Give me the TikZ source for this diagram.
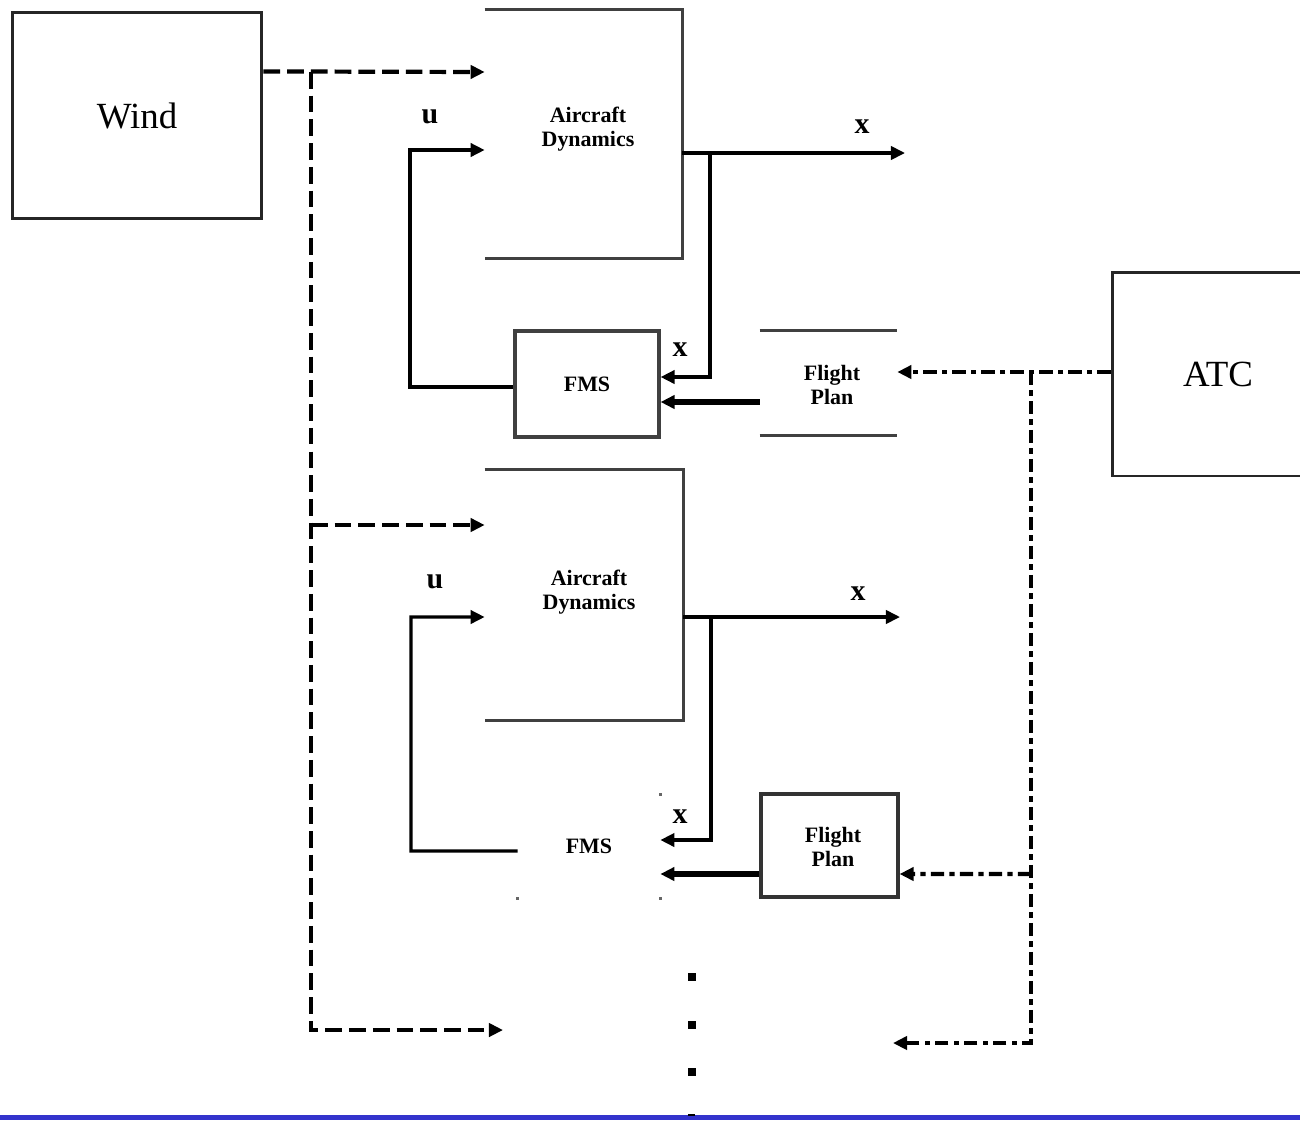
\documentclass[tikz,border=0pt]{standalone}
\usepackage{fontspec}
\setmainfont{Liberation Serif}
\usetikzlibrary{arrows.meta,calc}

\definecolor{barblue}{RGB}{51,51,204}

\begin{document}
\begin{tikzpicture}[x=0.02cm, y=-0.02cm, >={Triangle[length=8pt,width=7.5pt]},
    bigbox/.style={draw=black!85, line width=1.7pt, inner sep=0pt, font=\fontsize{21}{24}\selectfont},
    blk/.style={draw=none, inner sep=0pt, align=center, font=\bfseries\fontsize{12.5}{14}\selectfont},
    side/.style={draw=black!75, line width=1.8pt},
    sig/.style={line width=1.9pt},
    thk/.style={line width=3pt},
    windline/.style={line width=2.4pt, dash pattern=on 9.5pt off 4pt},
    atcline/.style={line width=2.4pt, dash pattern=on 7.5pt off 3pt on 3pt off 3pt},
    lbl/.style={inner sep=0pt, font=\bfseries\fontsize{17}{17}\selectfont}]

    \useasboundingbox (0,0) rectangle (1300,1120);

    % outer blocks
    \node[bigbox, minimum width=5cm, minimum height=4.14cm] (wind) at (137,115.5) {Wind};
    \node[bigbox, minimum width=4.24cm, minimum height=4.08cm] (atc) at (1218,374) {ATC};

    % first aircraft
    \node[blk, minimum width=3.94cm, minimum height=4.96cm] (ad1) at (583.5,134) {};
    \node[blk] (ad1t) at (588,129) {Aircraft\\Dynamics};
    \draw[side] (ad1.north west) -- (ad1.north east) -- (ad1.south east) -- (ad1.south west);
    \node[blk, draw=black!75, line width=1.8pt, minimum width=2.88cm, minimum height=2.12cm] (fms1) at (587,384) {FMS};
    \node[blk, minimum width=2.74cm, minimum height=2.08cm] (fp1) at (828.5,383) {};
    \node[blk] (fp1t) at (832,385) {Flight\\Plan};
    \draw[side] (fp1.north west) -- (fp1.north east);
    \draw[side] (fp1.south west) -- (fp1.south east);

    % second aircraft
    \node[blk, minimum width=3.96cm, minimum height=5cm] (ad2) at (584,595) {};
    \node[blk] (ad2t) at (589,592) {Aircraft\\Dynamics};
    \draw[side] (ad2.north west) -- (ad2.north east) -- (ad2.south east) -- (ad2.south west);
    \node[blk, minimum width=2.84cm, minimum height=2.06cm] (fms2) at (589,846.5) {FMS};
    \foreach \c in {north east, south west, south east}
        \fill[black!60] (fms2.\c) +(-1.5,-1.5) rectangle +(1.5,1.5);
    \node[blk, draw=black!80, line width=1.8pt, minimum width=2.74cm, minimum height=2.06cm] (fp2) at (829.5,845.5) {};
    \node[blk] (fp2t) at (833,847) {Flight\\Plan};

    % wind disturbance
    \coordinate (wsplit) at (311,72);
    \coordinate (wmid) at (311,525);
    \coordinate (wend) at (503,1030);
    \draw[windline,->] ($(wind.north east)!0.29!(wind.south east)$) -- ($(ad1.west)+(0,-62)$);
    \draw[windline,->] (wmid) -- ($(ad2.west)+(0,-70)$);
    \draw[windline,->] (wsplit) |- (wend);

    % ATC clearances
    \coordinate (asplit) at (1031,372);
    \coordinate (amid) at (1031,874);
    \coordinate (aend) at (893,1043);
    \draw[atcline,->] ($(atc.west)+(0,-2)$) -- ($(fp1.east)+(0,-11)$);
    \draw[atcline,->] (amid) -- ($(fp2.east)+(0,28.5)$);
    \draw[atcline,->] (asplit) |- (aend);

    % loop 1
    \draw[sig,->] ($(fms1.west)+(0,3)$) -- (410,387) |- ($(ad1.west)+(0,16)$);
    \draw[sig,->] ($(ad1.east)+(0,19)$) -- (905,153);
    \draw[sig,->] (710,153) |- ($(fms1.east)+(0,-7)$);
    \draw[thk,->] ($(fp1.west)+(0,19)$) -- ($(fms1.east)+(0,18)$);

    % loop 2
    \draw[sig,->] ($(fms2.west)+(0,4.5)$) -- (411,851) |- ($(ad2.west)+(0,22)$);
    \draw[sig,->] ($(ad2.east)+(0,22)$) -- (900,617);
    \draw[sig,->] (711,617) |- ($(fms2.east)+(0,-6.5)$);
    \draw[thk,->] ($(fp2.west)+(0,28.5)$) -- ($(fms2.east)+(0,27.5)$);

    % signal labels
    \node[lbl] (u1) at (430,117) {u};
    \node[lbl] (u2) at (435,582) {u};
    \node[lbl] (x1) at (862,127) {x};
    \node[lbl] (x2) at (858,594) {x};
    \node[lbl] (x3) at (680,350) {x};
    \node[lbl] (x4) at (680,817) {x};

    % more aircraft
    \foreach \y in {977,1025,1072}
        \fill (687.5,\y-4) rectangle (695.5,\y+4);
    \fill[barblue] (0,1115) rectangle (1300,1120);
    \fill (688,1114) rectangle (695,1116);

\end{tikzpicture}
\end{document}
